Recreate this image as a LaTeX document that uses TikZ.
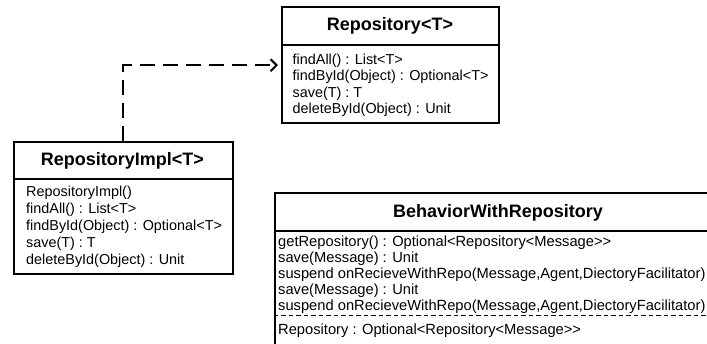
\documentclass[tikz,border=0pt]{standalone}
\usepackage{fontspec}
\setmainfont{Liberation Sans}
\usetikzlibrary{arrows.meta}
\begin{document}
\begin{tikzpicture}[x=1pt,y=-1pt,
  classbox/.style={draw=black, line width=2pt, rectangle, inner sep=0pt, anchor=north west},
  divider/.style={draw=black, line width=2pt},
  attrsep/.style={draw=black, line width=1.8pt, dash pattern=on 4.5pt off 3pt},
  classname/.style={font=\fontsize{18}{20}\selectfont\bfseries, inner sep=0pt},
  member/.style={font=\fontsize{14.4}{16}\selectfont, inner sep=0pt, anchor=base west},
  widemember/.style={member, font=\fontsize{14.7}{16}\selectfont},
  realize/.style={line width=2pt, dash pattern=on 15pt off 8pt,
    -{Straight Barb[length=6pt,width=12pt,line width=2pt]}}
]
\useasboundingbox (0,0) rectangle (707,344);
\begin{scope}
\clip (0,0) rectangle (707,344);

% Repository<T>
\node[classbox, minimum width=217pt, minimum height=115.5pt] (repo) at (281,6.5) {};
\coordinate (repoD) at (0,45);
\draw[divider] (repo.west |- repoD) -- (repo.east |- repoD);
\node[classname] (repoT) at (390,26) {Repository<T>};
\node[member] (repo1) at (292.5,65) {findAll() : List<T>};
\node[member] (repo2) at (292.5,81) {findById(Object) : Optional<T>};
\node[member] (repo3) at (292.5,97.5) {save(T) : T};
\node[member] (repo4) at (292.5,114) {deleteById(Object) : Unit};

% RepositoryImpl<T>
\node[classbox, minimum width=219.5pt, minimum height=132pt] (impl) at (12.7,141) {};
\coordinate (implD) at (0,179);
\draw[divider] (impl.west |- implD) -- (impl.east |- implD);
\node[classname] (implT) at (122.4,161) {RepositoryImpl<T>};
\node[member] (impl1) at (26,197) {RepositoryImpl()};
\node[member] (impl2) at (26,214) {findAll() : List<T>};
\node[member] (impl3) at (26,231) {findById(Object) : Optional<T>};
\node[member] (impl4) at (26,248) {save(T) : T};
\node[member] (impl5) at (26,265) {deleteById(Object) : Unit};

% BehaviorWithRepository (runs past the right and bottom edges)
\node[classbox, minimum width=445pt, minimum height=170pt] (beh) at (273.5,192) {};
\coordinate (behD) at (0,231);
\coordinate (behA) at (0,315.5);
\draw[divider] (beh.west |- behD) -- (beh.east |- behD);
\draw[attrsep] (beh.west |- behA) -- (beh.east |- behA);
\node[classname] (behT) at (498,213) {BehaviorWithRepository};
\node[widemember] (beh1) at (278,246.5) {getRepository() : Optional<Repository<Message>{}>};
\node[widemember] (beh2) at (278,262.5) {save(Message) : Unit};
\node[widemember] (beh3) at (278,279) {suspend onRecieveWithRepo(Message,Agent,DiectoryFacilitator)};
\node[widemember] (beh4) at (278,295) {save(Message) : Unit};
\node[widemember] (beh5) at (278,311) {suspend onRecieveWithRepo(Message,Agent,DiectoryFacilitator)};
\node[widemember] (beh6) at (278,335) {Repository : Optional<Repository<Message>{}>};

% realization: RepositoryImpl implements Repository
\draw[realize] (impl.north) |- ([xshift=-3pt]repo.west);
\end{scope}
\end{tikzpicture}
\end{document}
